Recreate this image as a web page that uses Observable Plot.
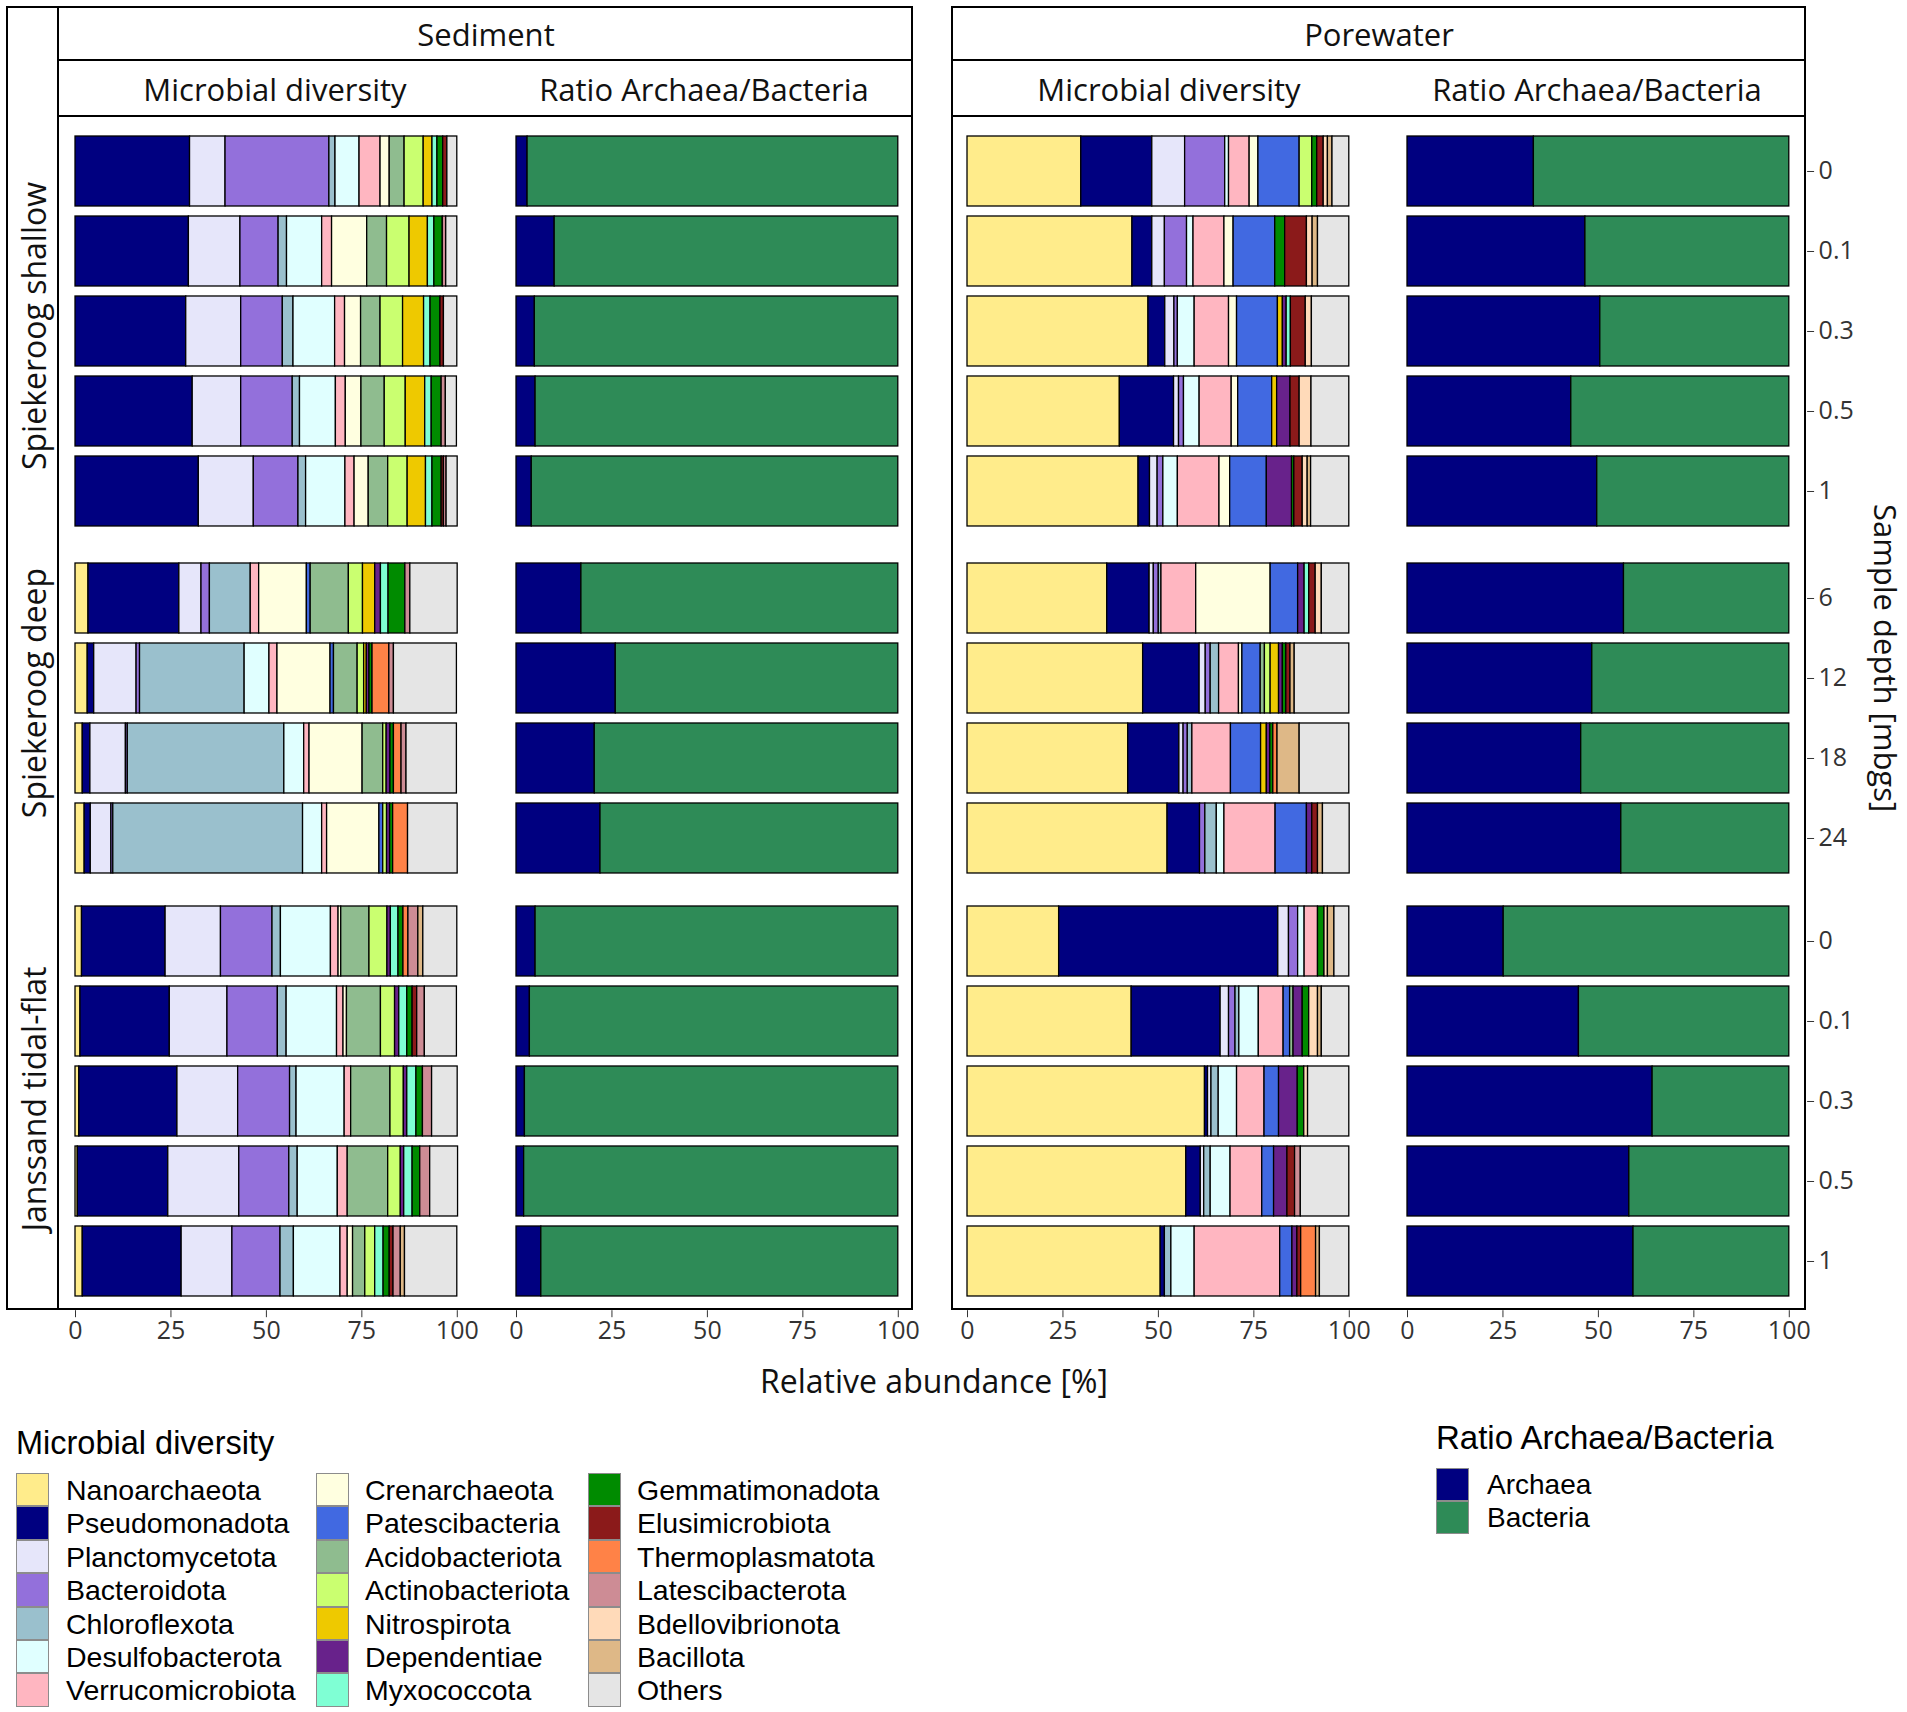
<!DOCTYPE html>
<html><head><meta charset="utf-8">
<script src="https://cdn.jsdelivr.net/npm/d3@7"></script>
<script src="https://cdn.jsdelivr.net/npm/@observablehq/plot@0.6"></script>
<style>
body{margin:0;background:#fff;}
#root{position:relative;width:1907px;height:1712px;background:#fff;font-family:"Open Sans",sans-serif;overflow:hidden;}
.box{position:absolute;border:2px solid #000;box-sizing:border-box;}
.line{position:absolute;background:#000;}
.hdr{position:absolute;font-size:31px;color:#111;transform:translate(-50%,-50%);white-space:nowrap;line-height:1;}
.rot{position:absolute;font-size:32px;color:#111;white-space:nowrap;line-height:1;}
.leg{position:absolute;font-family:"Liberation Sans",Arial,sans-serif;font-size:28.5px;color:#000;white-space:nowrap;line-height:1;}
.sw{position:absolute;box-sizing:border-box;border:1px solid #8c8c8c;}
.plot{position:absolute;}
</style></head><body><div id="root"></div>
<script>
// ---------- categories ----------
const phyla = ["Nanoarchaeota","Pseudomonadota","Planctomycetota","Bacteroidota","Chloroflexota","Desulfobacterota","Verrucomicrobiota","Crenarchaeota","Patescibacteria","Acidobacteriota","Actinobacteriota","Nitrospirota","Dependentiae","Myxococcota","Gemmatimonadota","Elusimicrobiota","Thermoplasmatota","Latescibacterota","Bdellovibrionota","Bacillota","Others"];
const phylaColors = ["#FFEC8B","#000080","#E6E6FA","#9370DB","#9AC0CD","#E0FFFF","#FFB6C1","#FFFFE0","#4169E1","#8FBC8F","#CAFF70","#EEC900","#68228B","#7FFFD4","#008B00","#8B1A1A","#FF8247","#CD8C95","#FFDAB9","#DEB887","#E5E5E5"];
const domains = ["Archaea","Bacteria"];
const domainColors = ["#000080","#2E8B57"];
const sites = ["Spiekeroog shallow","Spiekeroog deep","Janssand tidal-flat"];
const shallowDepths = ["0","0.1","0.3","0.5","1"];
const deepDepths = ["6","12","18","24"];
const tidalDepths = ["0","0.1","0.3","0.5","1"];
const xTicks = [0,25,50,75,100];

// ---------- microbial diversity, relative abundance [%] (columns follow `phyla`) ----------
const sedimentShallow = [
  [0,30.0, 9.3,27.2,1.6, 6.3,5.5,2.4,0,3.9,5.0,2.3,0,1.3,1.5,1.1,0,0,0,0,2.6],
  [0,29.7,13.5,10.0,2.2, 9.2,2.6,9.2,0,5.2,5.9,4.8,0,1.7,2.2,0,0,0.9,0,0,2.9],
  [0,29.0,14.4,10.9,2.8,10.9,2.6,4.2,0,5.1,5.9,5.5,0,1.7,2.6,0.9,0,0,0,0,3.5],
  [0,30.7,12.7,13.5,1.9, 9.4,2.6,4.1,0,6.1,5.5,5.1,0,1.7,2.6,0,0,1.1,0,0,2.9],
  [0,32.3,14.4,11.7,2.0,10.3,2.4,3.7,0,5.1,5.1,4.8,0,1.7,2.4,0.6,0,0.7,0,0,2.9]
];
const sedimentDeep = [
  [3.4,23.8, 5.8,2.2,10.7,0,  2.2,12.5,1.0,10.0,3.7,3.2,1.5,2.0,4.4,0,0,  1.3,0,0,12.4],
  [3.2, 1.7,11.1,0.9,27.4,6.5,2.1,13.9,0.9, 6.2,1.7,0.7,0.7,0,  0.8,0,4.4,1.2,0,0,16.5],
  [1.9, 2.0, 9.3,0.5,41.0,5.2,1.4,13.9,0,   5.4,0.9,0,  1.0,0,  0.9,0,2.0,1.3,0,0,13.2],
  [2.4, 1.6, 5.4,0.5,49.7,5.0,1.3,13.7,1.0, 0,  1.0,0,  0.8,0,  0.8,0,3.9,0,  0,0,13.0]
];
const sedimentTidal = [
  [1.7,21.9,14.5,13.5,2.2,13.1,2.0,0.7,0,7.4,4.7,0,0.9,2.0,1.3,0,  1.3,2.6,0,1.3,8.9],
  [1.3,23.4,15.1,13.2,2.3,13.2,1.7,0.9,0,8.9,3.7,0,1.1,2.1,1.4,1.2,0,  2.0,0,0,  8.4],
  [1.0,25.7,15.9,13.6,1.7,12.6,1.7,0,  0,10.3,3.5,0,0.9,2.4,1.7,0,0,  2.4,0,0,  6.7],
  [0.6,23.7,18.6,13.1,2.2,10.5,2.6,0,  0,10.6,3.3,0,0.9,2.2,2.0,0,0,  2.6,0,0,  7.3],
  [1.9,25.9,13.3,12.6,3.5,12.2,1.9,1.4,0,3.2,2.6,0,0,  2.2,1.6,1.0,0,  1.9,0,1.1,13.7]
];
const porewaterShallow = [
  [29.8,18.6,8.6,10.5,0,1.0,5.4,2.3,10.8,0,3.3,0,  0,  0,  1.3,1.7,0,0,1.1,1.2,4.4],
  [43.2, 5.2,3.3, 5.8,0,1.7,8.1,2.4,10.9,0,0,  0,  0,  0,  2.6,5.7,0,0,1.5,1.4,8.2],
  [47.4, 4.4,2.4, 0.9,0,4.4,9.0,2.1,10.7,0,0,  1.3,1.0,1.1,0,  3.9,0,0,1.6,0,  9.8],
  [39.9,14.2,1.3, 1.3,0,4.1,8.4,1.7, 8.9,0,0,  1.3,3.5,0,  0,  2.4,0,0,3.1,0,  9.9],
  [44.8, 3.0,2.0, 1.5,0,3.8,10.9,2.8,9.6,0,0,  0,  6.6,0,  0.6,2.2,0,0,1.3,0.9,10.0]
];
const porewaterDeep = [
  [36.6,11.1,1.1,1.3,0.7,0,  9.1,19.5,7.2,0,  0,  0,  1.7,1.2,0,  1.7,0,  0,1.6,0,  7.2],
  [46.0,14.8,1.6,1.3,2.2,0,  5.2, 0.9,4.8,1.1,1.5,2.2,1.0,0,  0.9,1.1,0,  0,0,  1.1,14.3],
  [42.1,13.4,1.1,1.1,1.2,0, 10.1, 0,  7.9,0,  0,  1.5,0.9,0,  0.8,0,  1.1,0,0,  5.8,13.0],
  [52.4, 8.5,0,  1.4,3.0,2.0,13.4,0,  8.2,0,  0,  0,  1.4,0,  0,  1.5,0,  0,0,  1.3, 7.0]
];
const porewaterTidal = [
  [24.0,57.4,2.8,2.4,0,  1.7,3.5, 0,0,  0,  0,0,0,  0,1.7,0,  0,  0,  0.9,1.7,3.9],
  [43.0,23.3,2.2,1.7,1.0,5.1,6.5, 0,1.7,0.9,0,0,2.4,0,1.7,0,  0,  0,  2.3,1.0,7.2],
  [62.2, 0.8,0.9,0,  1.9,4.8,7.2, 0,3.8,0,  0,0,4.9,0,1.7,0,  0,  0,  1.0,0,  10.8],
  [57.3, 3.8,0.9,0,  1.7,5.2,8.3, 0,3.1,0,  0,0,3.5,0,0,  2.0,0,  1.5,0,  0,  12.7],
  [50.6, 1.1,0,  0,  1.7,6.1,22.4,0,3.2,0,  0,0,1.3,0,0,  1.0,3.9,0,  0,  1.0,7.7]
];

// ---------- ratio Archaea / Bacteria: Archaea share [%] ----------
const archaeaSedimentShallow = [2.9,10.0,4.8,5.0,4.0];
const archaeaSedimentDeep = [17.0,26.0,20.5,22.0];
const archaeaSedimentTidal = [5.0,3.5,2.2,2.0,6.5];
const archaeaPorewaterShallow = [33.1,46.6,50.5,42.9,49.7];
const archaeaPorewaterDeep = [56.7,48.4,45.5,56.0];
const archaeaPorewaterTidal = [25.2,44.9,64.2,58.1,59.2];

// ---------- tidy helpers ----------
function tidyDiversity(matrix, depths) {
  const out = [];
  matrix.forEach((row, i) => row.forEach((v, j) => { if (v > 0) out.push({depth: depths[i], phylum: phyla[j], value: v}); }));
  return out;
}
function tidyRatio(arch, depths) {
  const out = [];
  arch.forEach((a, i) => {
    out.push({depth: depths[i], group: "Archaea", value: a});
    out.push({depth: depths[i], group: "Bacteria", value: 100 - a});
  });
  return out;
}

const root = document.getElementById("root");
function el(cls, style, text) {
  const d = document.createElement("div");
  d.className = cls;
  Object.assign(d.style, style);
  if (text != null) d.textContent = text;
  root.appendChild(d);
  return d;
}

// ---------- layout ----------
const colX = [75.4, 515.6, 966.7, 1406.9];
const colW = 381.8;
const siteTop = [130.0, 558.3, 899.8];
const siteStep = [80.3, 80.0, 80.3];
const frameBottom = 1310;
const frameRight = 1806;

const siteDepths = [shallowDepths, deepDepths, tidalDepths];
const diversity = [[sedimentShallow, sedimentDeep, sedimentTidal], [porewaterShallow, porewaterDeep, porewaterTidal]];
const ratios = [[archaeaSedimentShallow, archaeaSedimentDeep, archaeaSedimentTidal], [archaeaPorewaterShallow, archaeaPorewaterDeep, archaeaPorewaterTidal]];

function panel(col, site) {
  const medium = col < 2 ? 0 : 1;
  const isDiv = col % 2 === 0;
  const depths = siteDepths[site];
  const bandLen = depths.length * siteStep[site];
  const bottom = site === 2;
  const right = col === 3;
  const insetBottom = bottom ? frameBottom - (siteTop[site] + bandLen) : 0;
  const marginBottom = bottom ? 50 : 0;
  const insetRight = right ? frameRight - (colX[col] + colW) : 0;
  const marginRight = right ? 70 : 0;
  const data = isDiv ? tidyDiversity(diversity[medium][site], depths) : tidyRatio(ratios[medium][site], depths);
  const marks = [
    Plot.barX(data, {y: "depth", x: "value", fill: isDiv ? "phylum" : "group", stroke: "#000", strokeWidth: 1.3})
  ];
  if (bottom) marks.push(Plot.axisX({ticks: xTicks, tickSize: 7, tickPadding: 4, tickFormat: d => String(d), fontSize: 25, label: null}));
  if (right) marks.push(Plot.axisY({anchor: "right", tickSize: 7, tickPadding: 5, fontSize: 25, label: null}));
  const chart = Plot.plot({
    width: colW + insetRight + marginRight,
    height: bandLen + insetBottom + marginBottom,
    marginLeft: 0, marginTop: 0, marginRight, marginBottom,
    insetRight, insetBottom,
    x: {domain: [0, 100], axis: null, label: null},
    y: {domain: depths, paddingInner: 0.12, paddingOuter: 0.06, axis: null, label: null},
    color: isDiv ? {domain: phyla, range: phylaColors} : {domain: domains, range: domainColors},
    style: {fontFamily: "Open Sans, sans-serif", fontSize: "25px", color: "#333", background: "transparent", overflow: "visible"},
    marks
  });
  chart.classList.add("plot");
  chart.style.left = colX[col] + "px";
  chart.style.top = siteTop[site] + "px";
  chart.style.position = "absolute";
  root.appendChild(chart);
}

// frames
el("box", {left: "6px", top: "6px", width: "907px", height: "1304px"});
el("box", {left: "951px", top: "6px", width: "855px", height: "1304px"});
el("line", {left: "57px", top: "6px", width: "2px", height: "1304px"});
el("line", {left: "57px", top: "59px", width: "856px", height: "2px"});
el("line", {left: "57px", top: "115px", width: "856px", height: "2px"});
el("line", {left: "951px", top: "59px", width: "855px", height: "2px"});
el("line", {left: "951px", top: "115px", width: "855px", height: "2px"});

for (let c = 0; c < 4; c++) for (let s = 0; s < 3; s++) panel(c, s);

// strip texts
el("hdr", {left: "486px", top: "34px"}, "Sediment");
el("hdr", {left: "1379px", top: "34px"}, "Porewater");
el("hdr", {left: "275px", top: "89px"}, "Microbial diversity");
el("hdr", {left: "704px", top: "89px"}, "Ratio Archaea/Bacteria");
el("hdr", {left: "1169px", top: "89px"}, "Microbial diversity");
el("hdr", {left: "1597px", top: "89px"}, "Ratio Archaea/Bacteria");
const rowLabelY = [326, 693, 1099];
sites.forEach((s, i) => el("rot", {left: "34px", top: rowLabelY[i] + "px", transform: "translate(-50%,-50%) rotate(-90deg)"}, s));
el("rot", {left: "1885px", top: "658px", fontSize: "31px", transform: "translate(-50%,-50%) rotate(90deg)"}, "Sample depth [mbgs]");
el("hdr", {left: "934px", top: "1381px", fontSize: "32px"}, "Relative abundance [%]");

// legends
el("leg", {left: "16px", top: "1443px", fontSize: "32.5px", transform: "translateY(-50%)"}, "Microbial diversity");
const legColX = [16, 316, 588];
const legTextX = [66, 365, 637];
phyla.forEach((p, i) => {
  const c = Math.floor(i / 7), r = i % 7;
  const top = 1473 + r * 33.4;
  el("sw", {left: legColX[c] + "px", top: top + "px", width: "33px", height: "33.4px", background: phylaColors[i]});
  el("leg", {left: legTextX[c] + "px", top: (top + 17) + "px", transform: "translateY(-50%)"}, p);
});
el("leg", {left: "1436px", top: "1437px", fontSize: "33px", transform: "translateY(-50%)"}, "Ratio Archaea/Bacteria");
domains.forEach((d, i) => {
  const top = 1468 + i * 33;
  el("sw", {left: "1436px", top: top + "px", width: "33px", height: "33px", background: domainColors[i]});
  el("leg", {left: "1487px", top: (top + 17) + "px", fontSize: "28px", transform: "translateY(-50%)"}, d);
});
</script></body></html>
